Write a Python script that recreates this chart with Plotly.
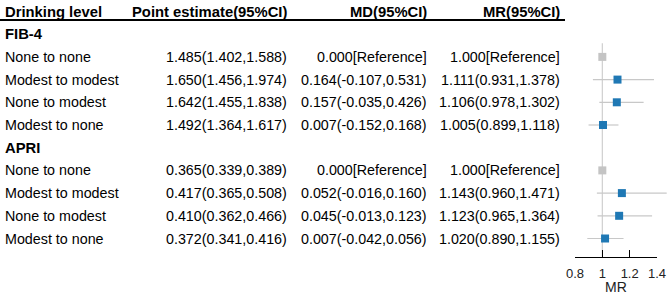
import plotly.graph_objects as go

W, H = 669, 295

groups = ["FIB-4", "APRI"]
levels = ["None to none", "Modest to modest", "None to modest", "Modest to none"]

# Point estimate (95%CI)
pe = [1.485, 1.650, 1.642, 1.492, 0.365, 0.417, 0.410, 0.372]
pe_lo = [1.402, 1.456, 1.455, 1.364, 0.339, 0.365, 0.362, 0.341]
pe_hi = [1.588, 1.974, 1.838, 1.617, 0.389, 0.508, 0.466, 0.416]

# MD (95%CI); None = reference
md = [None, 0.164, 0.157, 0.007, None, 0.052, 0.045, 0.007]
md_lo = [None, -0.107, -0.035, -0.152, None, -0.016, -0.013, -0.042]
md_hi = [None, 0.531, 0.426, 0.168, None, 0.160, 0.123, 0.056]

# MR (95%CI); None CI = reference
mr = [1.000, 1.111, 1.106, 1.005, 1.000, 1.143, 1.123, 1.020]
mr_lo = [None, 0.931, 0.978, 0.899, None, 0.960, 0.965, 0.890]
mr_hi = [None, 1.378, 1.302, 1.118, None, 1.471, 1.364, 1.155]

headers = ["Drinking level", "Point estimate(95%CI)", "MD(95%CI)", "MR(95%CI)"]
x_ticks = [0.8, 1.0, 1.2, 1.4]
x_ticktext = ["0.8", "1", "1.2", "1.4"]

FONT = "Liberation Sans, Arial, sans-serif"
BLUE = "#1f78b4"
REFGRAY = "#c4c4c4"
CIGRAY = "#c8c8c8"

row_of = []
group_rows = []
r = 1
for g in groups:
    group_rows.append(r)
    r += 1
    for _ in levels:
        row_of.append(r)
        r += 1

def fmt(v, lo, hi, ref):
    if v is None or lo is None:
        return f"{ref:.3f}[Reference]"
    return f"{v:.3f}({lo:.3f},{hi:.3f})"

row0_px, row_step = 11.5, 22.7
axis_px = 256.7
y_top = (0 - row0_px) / row_step
y_bot = (axis_px - row0_px) / row_step

px_per = (657 - 575) / 0.6
x_left = 0.8 - 10 / px_per
x_right = 1.4 + (669 - 657) / px_per

fig = go.Figure()

ci_idx = [i for i in range(len(mr)) if mr_lo[i] is not None]
fig.add_trace(go.Scatter(
    x=[mr[i] for i in ci_idx],
    y=[row_of[i] for i in ci_idx],
    mode="markers",
    marker=dict(symbol="square", size=8, color=BLUE, line=dict(width=0)),
    error_x=dict(type="data", symmetric=False,
                 array=[mr_hi[i] - mr[i] for i in ci_idx],
                 arrayminus=[mr[i] - mr_lo[i] for i in ci_idx],
                 width=0, color=CIGRAY, thickness=1.2),
    xaxis="x", yaxis="y", hoverinfo="skip", showlegend=False,
))
ref_idx = [i for i in range(len(mr)) if mr_lo[i] is None]
fig.add_trace(go.Scatter(
    x=[mr[i] for i in ref_idx],
    y=[row_of[i] for i in ref_idx],
    mode="markers",
    marker=dict(symbol="square", size=8, color=REFGRAY, line=dict(width=0)),
    xaxis="x", yaxis="y", hoverinfo="skip", showlegend=False,
))
fig.add_trace(go.Scatter(x=[1.0], y=[y_bot], mode="markers",
                         marker=dict(opacity=0), xaxis="x2", yaxis="y",
                         hoverinfo="skip", showlegend=False))

fig.add_shape(type="line", xref="x", yref="y", x0=1, x1=1, y0=1.4, y1=y_bot,
              line=dict(color="#cfcfcf", width=1.2), layer="below")
fig.add_shape(type="line", xref="paper", yref="paper", x0=0, x1=565 / W,
              y0=1 - 20 / H, y1=1 - 20 / H, line=dict(color="black", width=2))

ann = []
col_x = [3, 289, 429, 562]
anchors = ["left", "right", "right", "right"]
for h, cx, an in zip(headers, col_x, anchors):
    ann.append(dict(x=cx / W, y=0, xref="paper", yref="y", text=f"<b>{h}</b>",
                    xanchor=an, yanchor="middle", showarrow=False,
                    font=dict(family=FONT, size=14.8, color="black")))
for g, gr in zip(groups, group_rows):
    ann.append(dict(x=3 / W, y=gr, xref="paper", yref="y", text=f"<b>{g}</b>",
                    xanchor="left", yanchor="middle", showarrow=False,
                    font=dict(family=FONT, size=14.8, color="black")))
for i, rr in enumerate(row_of):
    texts = [levels[i % len(levels)],
             fmt(pe[i], pe_lo[i], pe_hi[i], 0),
             fmt(md[i], md_lo[i], md_hi[i], 0.0),
             fmt(mr[i] if mr_lo[i] is not None else None, mr_lo[i], mr_hi[i], 1.0)]
    for t, cx, an in zip(texts, col_x, anchors):
        ann.append(dict(x=cx / W, y=rr, xref="paper", yref="y", text=t,
                        xanchor=an, yanchor="middle", showarrow=False,
                        font=dict(family=FONT, size=14.3, color="black")))

fig.update_layout(
    width=W, height=H,
    margin=dict(l=0, r=0, t=0, b=0),
    paper_bgcolor="white", plot_bgcolor="rgba(0,0,0,0)",
    annotations=ann,
    hovermode=False,
    xaxis=dict(domain=[565 / W, 1], range=[x_left, x_right], visible=False,
               fixedrange=True),
    xaxis2=dict(domain=[575 / W, 657 / W], range=[0.8, 1.4], anchor="y",
                showgrid=False, zeroline=False, showline=True,
                linecolor="black", linewidth=1.5, fixedrange=True,
                ticks="inside", ticklen=7, tickwidth=1.5, tickcolor="black",
                tickvals=x_ticks, ticktext=x_ticktext, ticklabelstandoff=4,
                tickfont=dict(family=FONT, size=13, color="#222"),
                title=dict(text="MR", standoff=2,
                           font=dict(family=FONT, size=14, color="#222")),
                automargin=False),
    yaxis=dict(domain=[1 - axis_px / H, 1], range=[y_bot, y_top], visible=False,
               fixedrange=True),
)

fig.write_html("out.html", config={"displayModeBar": False, "staticPlot": True},
               post_script="document.body.style.margin='0';document.body.style.overflow='hidden';")
